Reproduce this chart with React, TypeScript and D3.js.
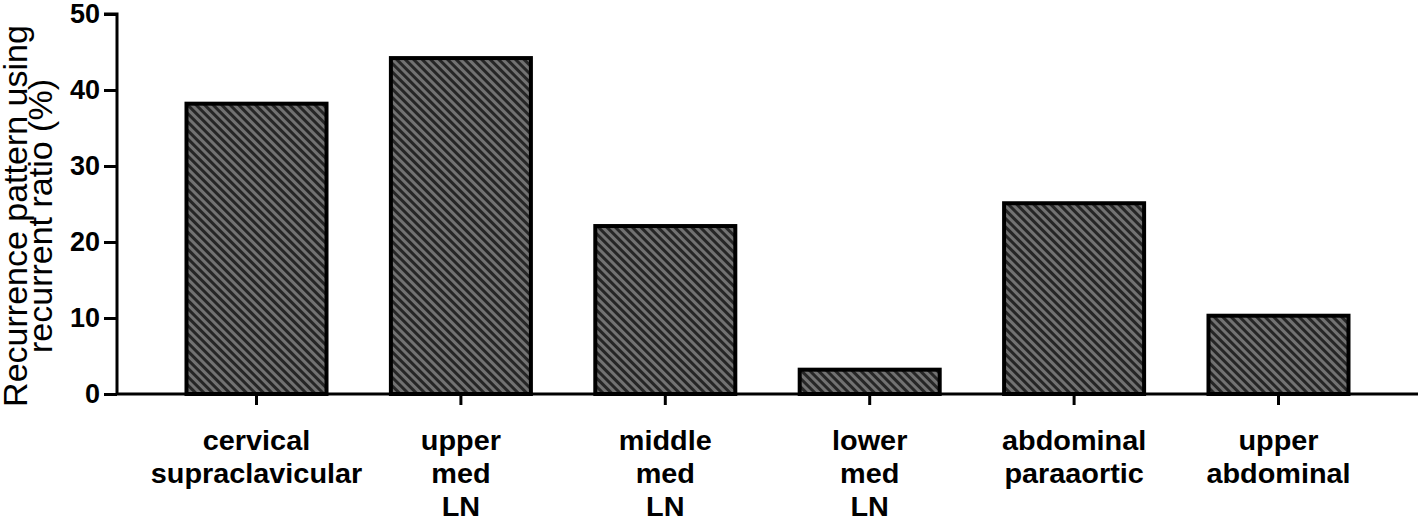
import React, { useEffect, useRef } from 'react';
import * as d3 from 'd3';

const categories = ['cervical supraclavicular', 'upper med LN', 'middle med LN', 'lower med LN', 'abdominal paraaortic', 'upper abdominal'];
const labelLines = [
  ['cervical', 'supraclavicular'],
  ['upper', 'med', 'LN'],
  ['middle', 'med', 'LN'],
  ['lower', 'med', 'LN'],
  ['abdominal', 'paraaortic'],
  ['upper', 'abdominal'],
];
const values = [38.2, 44.2, 22.1, 3.2, 25.1, 10.3];
const yTicks = [0, 10, 20, 30, 40, 50];
const titleLines = ['Recurrence pattern using', 'recurrent ratio (%)'];

const W = 1418;
const H = 521;

const App = () => {
  const ref = useRef<SVGSVGElement | null>(null);

  useEffect(() => {
    const svg = d3.select(ref.current);
    svg.selectAll('*').remove();

    const x = d3.scaleBand()
      .domain(categories)
      .range([117, 1418])
      .paddingInner(0.315)
      .paddingOuter(0.34);

    const y = d3.scaleLinear().domain([0, 50]).range([394, 14]);

    const defs = svg.append('defs');
    const pat = defs.append('pattern')
      .attr('id', 'hatch')
      .attr('patternUnits', 'userSpaceOnUse')
      .attr('width', 6)
      .attr('height', 6)
      .attr('patternTransform', 'rotate(45)');
    pat.append('rect').attr('width', 6).attr('height', 6).attr('fill', '#727272');
    pat.append('rect').attr('width', 6).attr('height', 3).attr('fill', '#262626');

    svg.selectAll('rect.bar')
      .data(values)
      .enter()
      .append('rect')
      .attr('class', 'bar')
      .attr('x', (d, i) => x(categories[i]) as number)
      .attr('y', d => y(d))
      .attr('width', x.bandwidth())
      .attr('height', d => y(0) - y(d))
      .attr('fill', 'url(#hatch)')
      .attr('stroke', '#000')
      .attr('stroke-width', 4);

    // y axis
    const yAxis = svg.append('g')
      .attr('transform', 'translate(117,0)')
      .call(d3.axisLeft(y).tickValues(yTicks).tickSize(13).tickPadding(4));
    yAxis.select('.domain').attr('stroke-width', 3).attr('d', `M-13,${y(50)}H0V${y(0)}`);
    yAxis.selectAll('.tick line').attr('stroke-width', 3);
    yAxis.selectAll('text')
      .attr('font-family', 'Liberation Sans, Arial, sans-serif')
      .attr('font-weight', 'bold')
      .attr('font-size', 27)
      .attr('fill', '#000');

    // x axis
    const xAxis = svg.append('g')
      .attr('transform', `translate(0,${y(0)})`)
      .call(d3.axisBottom(x).tickSize(11).tickFormat(() => ''));
    xAxis.select('.domain').attr('stroke-width', 3).attr('d', `M117,0H1418`);
    xAxis.selectAll('.tick line').attr('stroke-width', 3);

    const labels = svg.append('g')
      .attr('font-family', 'Liberation Sans, Arial, sans-serif')
      .attr('font-weight', 'bold')
      .attr('font-size', 28)
      .attr('text-anchor', 'middle');
    categories.forEach((c, i) => {
      const cx = (x(c) as number) + x.bandwidth() / 2;
      labelLines[i].forEach((line, j) => {
        labels.append('text')
          .attr('transform', `translate(${cx},${450 + j * 33}) scale(1.03,1)`)
          .text(line);
      });
    });

    // y title
    const title = svg.append('g')
      .attr('font-family', 'Liberation Sans, Arial, sans-serif')
      .attr('font-size', 34)
      .attr('text-anchor', 'middle');
    titleLines.forEach((t, i) => {
      title.append('text')
        .attr('transform', `translate(${27 + i * 25},216) rotate(-90)`)
        .text(t);
    });
  }, []);

  return (
    <svg ref={ref} width={W} height={H} style={{ position: 'absolute', left: 0, top: 0, background: '#fff' }} />
  );
};

export default App;
